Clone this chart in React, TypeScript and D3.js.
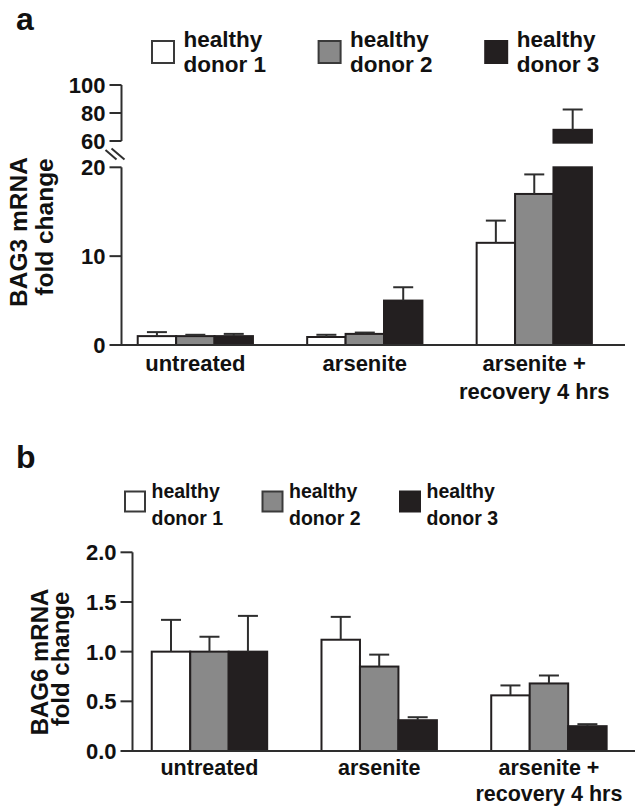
import React from "react";
import * as d3 from "d3";

// ---------- DATA ----------
const categories: string[][] = [["untreated"], ["arsenite"], ["arsenite +", "recovery 4 hrs"]];
const donors: string[] = ["healthy donor 1", "healthy donor 2", "healthy donor 3"];
const donorFills: string[] = ["#ffffff", "#898989", "#231f20"];

// BAG3 (panel a)
const bag3Donor1: number[] = [1.0, 0.9, 11.5];
const bag3Donor1Err: number[] = [0.45, 0.25, 2.5];
const bag3Donor2: number[] = [1.0, 1.25, 17.0];
const bag3Donor2Err: number[] = [0.15, 0.15, 2.2];
const bag3Donor3: number[] = [1.0, 5.0, 68.0];
const bag3Donor3Err: number[] = [0.25, 1.5, 14.5];
const bag3LowTicks: number[] = [0, 10, 20];
const bag3HighTicks: number[] = [60, 80, 100];

// BAG6 (panel b)
const bag6Donor1: number[] = [1.0, 1.12, 0.56];
const bag6Donor1Err: number[] = [0.32, 0.23, 0.1];
const bag6Donor2: number[] = [1.0, 0.85, 0.68];
const bag6Donor2Err: number[] = [0.15, 0.12, 0.08];
const bag6Donor3: number[] = [1.0, 0.31, 0.25];
const bag6Donor3Err: number[] = [0.36, 0.03, 0.02];
const bag6Ticks: number[] = [0, 0.5, 1.0, 1.5, 2.0];

const FONT = "'Liberation Sans', Arial, Helvetica, sans-serif";
const INK = "#231f20";
const AXIS = "#2e2e2e";

const bag3Means = [bag3Donor1, bag3Donor2, bag3Donor3];
const bag3Errs = [bag3Donor1Err, bag3Donor2Err, bag3Donor3Err];
const bag6Means = [bag6Donor1, bag6Donor2, bag6Donor3];
const bag6Errs = [bag6Donor1Err, bag6Donor2Err, bag6Donor3Err];

const catKeys = categories.map((c) => c.join(" "));

function Legend({ x0, y0, step, box, textDx, fontSize, lineGap }: any) {
  return (
    <g>
      {donors.map((d, i) => {
        const words = d.split(" ");
        const lines = [words[0], words.slice(1).join(" ")];
        const x = x0 + i * step;
        return (
          <g key={d}>
            <rect x={x} y={y0} width={box} height={box} fill={donorFills[i]} stroke={i === 2 ? INK : "#3a3a3a"} strokeWidth={2} />
            <text x={x + textDx} y={y0 + 6} fontSize={fontSize} fontWeight="bold" fontFamily={FONT} fill="#111">
              {lines[0]}
            </text>
            <text x={x + textDx} y={y0 + 6 + lineGap} fontSize={fontSize} fontWeight="bold" fontFamily={FONT} fill="#111">
              {lines[1]}
            </text>
          </g>
        );
      })}
    </g>
  );
}

function ErrorBar({ cx, y0, y1, cap }: any) {
  return (
    <g stroke={AXIS} strokeWidth={2}>
      <line x1={cx} x2={cx} y1={y0} y2={y1} />
      <line x1={cx - cap / 2} x2={cx + cap / 2} y1={y1} y2={y1} />
    </g>
  );
}

function CategoryLabels({ x, y0, lineGap, fontSize }: any) {
  return (
    <g>
      {categories.map((lines, i) => (
        <text
          key={i}
          x={(x(catKeys[i]) as number) + x.bandwidth() / 2}
          y={y0}
          textAnchor="middle"
          fontSize={fontSize}
          fontWeight="bold"
          fontFamily={FONT}
          fill="#111"
        >
          {lines.map((l, j) => (
            <tspan key={j} x={(x(catKeys[i]) as number) + x.bandwidth() / 2} dy={j === 0 ? 0 : lineGap}>
              {l}
            </tspan>
          ))}
        </text>
      ))}
    </g>
  );
}

function PanelA() {
  const axisX = 121.5;
  const x = d3.scaleBand<string>().domain(catKeys).range([110.6, 619]).paddingInner(0.32).paddingOuter(0.16);
  const xs = d3.scaleBand<number>().domain([0, 1, 2]).range([0, x.bandwidth()]);
  const yLow = d3.scaleLinear().domain([0, 20]).range([345, 167.3]);
  const yHigh = d3.scaleLinear().domain([60, 100]).range([141, 85]);
  const lowMax = yLow.domain()[1];
  const highMin = yHigh.domain()[0];
  const tickLen = 12;
  return (
    <g>
      <text x={16} y={30} fontSize={32} fontWeight="bold" fontFamily={FONT} fill="#111">a</text>
      <Legend x0={152} y0={41} step={166.6} box={22} textDx={31.5} fontSize={22.5} lineGap={25} />
      {/* bars */}
      {catKeys.map((c, ci) => (
        <g key={c}>
          {donors.map((d, di) => {
            const v = bag3Means[di][ci];
            const e = bag3Errs[di][ci];
            const bx = (x(c) as number) + (xs(di) as number);
            const bw = xs.bandwidth();
            const cx = bx + bw / 2;
            const lowTop = yLow(Math.min(v, lowMax));
            const broken = v > lowMax;
            return (
              <g key={d}>
                <rect x={bx} y={lowTop} width={bw} height={yLow(0) - lowTop} fill={donorFills[di]} stroke={INK} strokeWidth={2} />
                {broken && (
                  <rect x={bx} y={yHigh(v)} width={bw} height={yHigh(highMin - 1.2) - yHigh(v)} fill={donorFills[di]} stroke={INK} strokeWidth={2} />
                )}
                {broken ? (
                  <ErrorBar cx={cx} y0={yHigh(v)} y1={yHigh(v + e)} cap={20} />
                ) : (
                  <ErrorBar cx={cx} y0={yLow(v)} y1={yLow(v + e)} cap={20} />
                )}
              </g>
            );
          })}
        </g>
      ))}
      {/* axes */}
      <g stroke={AXIS} strokeWidth={2} fill="none">
        <line x1={axisX} x2={axisX} y1={yLow(0) + 1} y2={yLow(20)} />
        <line x1={axisX} x2={axisX} y1={yHigh(60)} y2={yHigh(100)} />
        <line x1={axisX} x2={625} y1={yLow(0)} y2={yLow(0)} />
        {bag3LowTicks.map((t) => (
          <line key={"l" + t} x1={axisX - tickLen} x2={axisX} y1={yLow(t)} y2={yLow(t)} />
        ))}
        {bag3HighTicks.map((t) => (
          <line key={"h" + t} x1={axisX - tickLen} x2={axisX} y1={yHigh(t)} y2={yHigh(t)} />
        ))}
        {/* break marks */}
        <line x1={axisX - 16} y1={150} x2={axisX - 5} y2={159.5} />
        <line x1={axisX - 10} y1={148.5} x2={axisX + 3} y2={159.5} />
      </g>
      {bag3LowTicks.map((t) => (
        <text key={"lt" + t} x={axisX - tickLen - 4} y={yLow(t) + 8} textAnchor="end" fontSize={22} fontWeight="bold" fontFamily={FONT} fill="#111">
          {t}
        </text>
      ))}
      {bag3HighTicks.map((t) => (
        <text key={"ht" + t} x={axisX - tickLen - 4} y={yHigh(t) + 8} textAnchor="end" fontSize={22} fontWeight="bold" fontFamily={FONT} fill="#111">
          {t}
        </text>
      ))}
      <text transform="translate(27,232) rotate(-90)" textAnchor="middle" fontSize={24.5} fontWeight="bold" fontFamily={FONT} fill="#111">BAG3 mRNA</text>
      <text transform="translate(53,227) rotate(-90)" textAnchor="middle" fontSize={24.5} fontWeight="bold" fontFamily={FONT} fill="#111">fold change</text>
      <CategoryLabels x={x} y0={371} lineGap={28} fontSize={22} />
    </g>
  );
}

function PanelB() {
  const axisX = 132.5;
  const x = d3.scaleBand<string>().domain(catKeys).range([124.6, 633.8]).paddingInner(0.32).paddingOuter(0.16);
  const xs = d3.scaleBand<number>().domain([0, 1, 2]).range([0, x.bandwidth()]);
  const y = d3.scaleLinear().domain([0, 2]).range([751, 552.3]);
  const tickLen = 12;
  return (
    <g>
      <text x={16} y={468} fontSize={32} fontWeight="bold" fontFamily={FONT} fill="#111">b</text>
      <Legend x0={125} y0={491.5} step={137.5} box={20} textDx={26.5} fontSize={19.5} lineGap={27} />
      {catKeys.map((c, ci) => (
        <g key={c}>
          {donors.map((d, di) => {
            const v = bag6Means[di][ci];
            const e = bag6Errs[di][ci];
            const bx = (x(c) as number) + (xs(di) as number);
            const bw = xs.bandwidth();
            return (
              <g key={d}>
                <rect x={bx} y={y(v)} width={bw} height={y(0) - y(v)} fill={donorFills[di]} stroke={INK} strokeWidth={2} />
                <ErrorBar cx={bx + bw / 2} y0={y(v)} y1={y(v + e)} cap={20} />
              </g>
            );
          })}
        </g>
      ))}
      <g stroke={AXIS} strokeWidth={2} fill="none">
        <line x1={axisX} x2={axisX} y1={y(0) + 1} y2={y(2)} />
        <line x1={axisX} x2={635} y1={y(0)} y2={y(0)} />
        {bag6Ticks.map((t) => (
          <line key={t} x1={axisX - tickLen} x2={axisX} y1={y(t)} y2={y(t)} />
        ))}
      </g>
      {bag6Ticks.map((t) => (
        <text key={"t" + t} x={axisX - tickLen - 4} y={y(t) + 8} textAnchor="end" fontSize={22} fontWeight="bold" fontFamily={FONT} fill="#111">
          {d3.format(".1f")(t)}
        </text>
      ))}
      <text transform="translate(48,662) rotate(-90)" textAnchor="middle" fontSize={24} fontWeight="bold" fontFamily={FONT} fill="#111">BAG6 mRNA</text>
      <text transform="translate(69,659) rotate(-90)" textAnchor="middle" fontSize={24} fontWeight="bold" fontFamily={FONT} fill="#111">fold change</text>
      <CategoryLabels x={x} y0={775} lineGap={26} fontSize={21.5} />
    </g>
  );
}

export default function App() {
  return (
    <svg
      width={635}
      height={807}
      viewBox="0 0 635 807"
      style={{ position: "absolute", left: 0, top: 0, background: "#ffffff" }}
    >
      <rect width={635} height={807} fill="#ffffff" />
      <PanelA />
      <PanelB />
    </svg>
  );
}
